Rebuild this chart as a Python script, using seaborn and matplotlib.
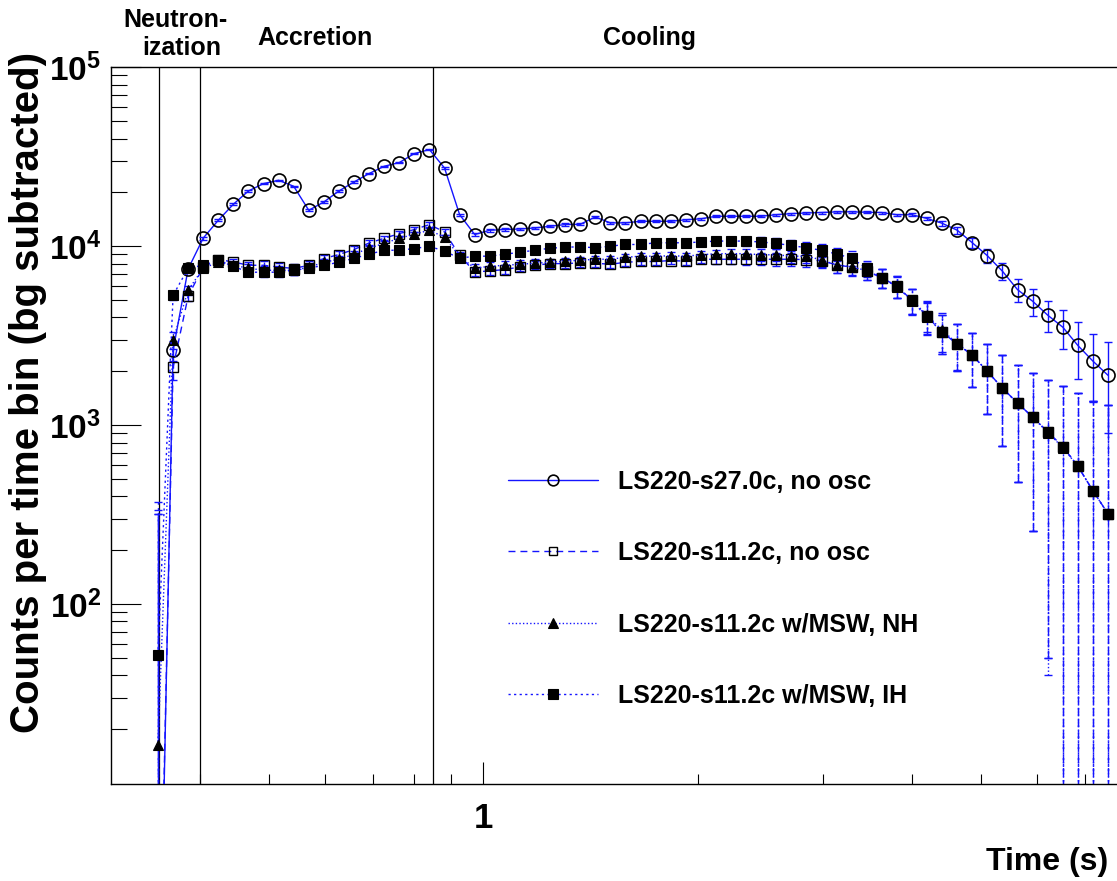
import numpy as np
import matplotlib
matplotlib.use('Agg')
import matplotlib.pyplot as plt
from matplotlib.lines import Line2D
from matplotlib.ticker import NullFormatter
import seaborn as sns

# bin centres (s), log-spaced bins
t_s = [0.349, 0.3665, 0.3848, 0.4040, 0.4242, 0.4454, 0.4677, 0.4911, 0.5157, 0.5414,
       0.5685, 0.5969, 0.6268, 0.6581, 0.6910, 0.7256, 0.7619, 0.8000, 0.8400, 0.8820,
       0.9261, 0.9724, 1.0210, 1.0721, 1.1257, 1.1820, 1.2411, 1.3031, 1.3683, 1.4367,
       1.5085, 1.5840, 1.6632, 1.7463, 1.8336, 1.9253, 2.0216, 2.1227, 2.2288, 2.3402,
       2.4573, 2.5801, 2.7091, 2.8446, 2.9868, 3.1362, 3.2930, 3.4576, 3.6305, 3.8120,
       4.0026, 4.2028, 4.4129, 4.6336, 4.8652, 5.1085, 5.3639, 5.6321, 5.9137, 6.2094,
       6.5199, 6.8459, 7.1882, 7.5476]

cnt_s27 = [0.2, 2620, 7470, 11100, 13970, 17170, 20370, 22400, 23370, 21640,
           15890, 17680, 20370, 22870, 25480, 27990, 29350, 32960, 34690, 27380,
           15030, 11630, 12290, 12400, 12490, 12660, 12930, 13220, 13270, 14580,
           13510, 13510, 13790, 13790, 13790, 14060, 14240, 14710, 14710, 14710,
           14710, 15010, 15210, 15350, 15430, 15570, 15570, 15490, 15430, 15000,
           15000, 14300, 13440, 12290, 10460, 8850, 7250, 5720, 4930, 4120,
           3530, 2790, 2280, 1900]

cnt_s11 = [0.3, 2110, 5260, 7660, 8430, 8170, 7830, 7830, 7660, 7510,
           7830, 8540, 8990, 9590, 10430, 11080, 11770, 12400, 13220, 12020,
           8910, 7190, 7280, 7410, 7660, 7830, 8000, 8000, 8070, 8040,
           7930, 8140, 8220, 8220, 8320, 8250, 8460, 8460, 8460, 8460,
           8460, 8460, 8460, 8420, 8290, 7880, 7630, 7250, 6670, 5980,
           4990, 4060, 3310, 2840, 2460, 2000, 1610, 1330, 1110, 920,
           760, 590, 430, 320]

cnt_nh = [16.3, 2990, 5680, 7540, 8140, 7830, 7540, 7340, 7340, 7340,
          7630, 8140, 8460, 9020, 9750, 10390, 11080, 11670, 12290, 11230,
          8800, 7540, 7730, 7830, 7930, 8040, 8140, 8250, 8350, 8460,
          8460, 8680, 8800, 8800, 8850, 8800, 8960, 9090, 9090, 9090,
          8960, 8960, 8800, 8800, 8390, 7860, 7690, 7300, 6670, 5980,
          4990, 4120, 3390, 2870, 2460, 2000, 1610, 1330, 1110, 910,
          750, 590, 430, 320]

cnt_ih = [52, 5320, 7540, 7830, 8350, 7730, 7160, 7160, 7160, 7340,
          7540, 7830, 8140, 8570, 9020, 9500, 9500, 9710, 10000, 9380,
          8570, 8800, 8800, 9020, 9260, 9500, 9750, 9870, 9940, 9800,
          10010, 10230, 10230, 10460, 10460, 10460, 10560, 10690, 10690, 10690,
          10560, 10370, 10100, 9800, 9500, 9050, 8580, 7520, 6670, 5940,
          4960, 4010, 3310, 2840, 2460, 2000, 1610, 1330, 1110, 920,
          760, 590, 430, 320]

# uncertainty per bin (bg subtraction); small ones hide behind the markers
err_s27 = [320, 330, 340, 200, 200, 200, 200, 200, 200, 200,
           200, 200, 200, 200, 200, 200, 200, 200, 200, 200,
           200, 200, 200, 200, 200, 200, 200, 200, 200, 200,
           200, 200, 200, 200, 200, 200, 200, 200, 200, 200,
           200, 200, 200, 200, 200, 200, 200, 200, 200, 200,
           250, 300, 400, 600, 720, 790, 760, 830, 860, 820,
           880, 970, 940, 1000]

err_s11 = [320, 330, 340, 350, 360, 370, 380, 390, 400, 400,
           400, 400, 400, 400, 400, 400, 400, 400, 400, 400,
           400, 400, 400, 400, 400, 400, 400, 400, 400, 400,
           400, 400, 400, 400, 400, 420, 450, 500, 550, 600,
           650, 700, 720, 740, 760, 770, 780, 790, 800, 810,
           815, 820, 825, 830, 835, 840, 845, 850, 855, 870,
           900, 920, 940, 970]

phase_edges = [0.35, 0.40, 0.85]

labels = ['LS220-s27.0c, no osc', 'LS220-s11.2c, no osc',
          'LS220-s11.2c w/MSW, NH', 'LS220-s11.2c w/MSW, IH']

BLUE = '#1414ff'

sns.set_theme(style='white')
plt.rcParams['font.family'] = ['Liberation Sans', 'DejaVu Sans']
plt.rcParams['font.weight'] = 'bold'
plt.rcParams['mathtext.fontset'] = 'custom'
plt.rcParams['mathtext.rm'] = 'Liberation Sans:bold'
plt.rcParams['mathtext.bf'] = 'Liberation Sans:bold'
plt.rcParams['mathtext.it'] = 'Liberation Sans:bold'
for k in ['text.color', 'axes.labelcolor', 'xtick.color', 'ytick.color', 'axes.edgecolor']:
    plt.rcParams[k] = 'black'

fig = plt.figure(figsize=(11.17, 8.81), dpi=100)
ax = fig.add_axes([0.0991, 0.1098, 0.9009, 0.8138])

# (values, errors, line style, marker, size, face, edge width, legend size)
styles = [
    (cnt_s27, err_s27, '-', 'o', 9.4, 'none', 1.2, 7.7),
    (cnt_s11, err_s11, (0, (5, 3.6)), 's', 7.0, 'none', 1.0, 6.0),
    (cnt_nh, err_s11, (0, (1, 1.6)), '^', 7.5, 'black', 0.8, 7.0),
    (cnt_ih, err_s11, (0, (1.6, 2.4)), 's', 6.5, 'black', 0.8, 6.5),
]

t = np.array(t_s)
handles = []
for (vals, errs, ls, mk, ms, fc, mew, lms), lab in zip(styles, labels):
    y = np.array(vals, dtype=float)
    err = np.array(errs, dtype=float)
    lo = y - np.maximum(y - err, 0.01)
    eb = ax.errorbar(t, y, yerr=[lo, err], fmt='none', ecolor=BLUE,
                     elinewidth=1.0, capsize=2.6, capthick=1.0, zorder=2)
    eb[2][0].set_linestyle(ls)
    sns.lineplot(x=t, y=y, ax=ax, color=BLUE, linestyle=ls, linewidth=1.0,
                 marker=mk, markersize=ms, markerfacecolor=fc,
                 markeredgecolor='black', markeredgewidth=mew,
                 sort=False, estimator=None, zorder=3)
    handles.append(Line2D([], [], color=BLUE, linestyle=ls, linewidth=1.0,
                          marker=mk, markersize=lms, markerfacecolor=fc,
                          markeredgecolor='black', markeredgewidth=mew, label=lab))

for xv in phase_edges:
    ax.axvline(xv, color='black', linewidth=0.9, zorder=1)

ax.set_xscale('log')
ax.set_yscale('log')
ax.set_xlim(0.2995, 7.77)
ax.set_ylim(9.85, 1e5)

ax.set_xticks([1], ['1'])
ax.set_xticks([0.4, 0.5, 0.6, 0.7, 0.8, 0.9, 2, 3, 4, 5, 6, 7], minor=True)
ax.xaxis.set_minor_formatter(NullFormatter())
ax.set_yticks([1e2, 1e3, 1e4, 1e5],
              [r'$\mathbf{10^{2}}$', r'$\mathbf{10^{3}}$', r'$\mathbf{10^{4}}$', r'$\mathbf{10^{5}}$'])
ax.set_yticks([m * 10.0 ** e for e in range(1, 5) for m in range(2, 10)], minor=True)
ax.yaxis.set_minor_formatter(NullFormatter())

ax.tick_params(axis='x', which='major', direction='in', length=15.8, width=0.8,
               pad=13, labelsize=25, bottom=True, top=False)
ax.tick_params(axis='x', which='minor', direction='in', length=7.2, width=0.8,
               bottom=True, top=False)
ax.tick_params(axis='y', which='major', direction='in', length=21.6, width=0.8,
               pad=7, labelsize=24, left=True, right=False)
ax.tick_params(axis='y', which='minor', direction='in', length=11.5, width=0.8,
               left=True, right=False)
ax.set_xlabel('')
ax.set_ylabel('')
ax.grid(False)
for side in ['left', 'bottom', 'top']:
    ax.spines[side].set_linewidth(1.0)
    ax.spines[side].set_color('black')
ax.spines['right'].set_visible(False)

ax.legend(handles=handles, loc='upper left', bbox_to_anchor=(0.4548, 0.4668),
          bbox_transform=fig.transFigure, frameon=False,
          prop={'weight': 'bold', 'size': 18}, handlelength=3.6,
          handletextpad=0.8, labelspacing=1.9, borderpad=0, borderaxespad=0)

fig.text(0.1573, 0.9773, 'Neutron-', ha='center', va='center', fontsize=18, fontweight='bold')
fig.text(0.1629, 0.9455, 'ization', ha='center', va='center', fontsize=18, fontweight='bold')
fig.text(0.282, 0.9569, 'Accretion', ha='center', va='center', fontsize=18, fontweight='bold')
fig.text(0.5819, 0.9569, 'Cooling', ha='center', va='center', fontsize=18, fontweight='bold')
fig.text(0.992, 0.0216, 'Time (s)', ha='right', va='center', fontsize=23, fontweight='bold')
fig.text(0.0255, 0.554, 'Counts per time bin (bg subtracted)', ha='center', va='center',
         rotation=90, fontsize=29, fontweight='bold')

fig.savefig('out.png', dpi=100)
plt.close(fig)
